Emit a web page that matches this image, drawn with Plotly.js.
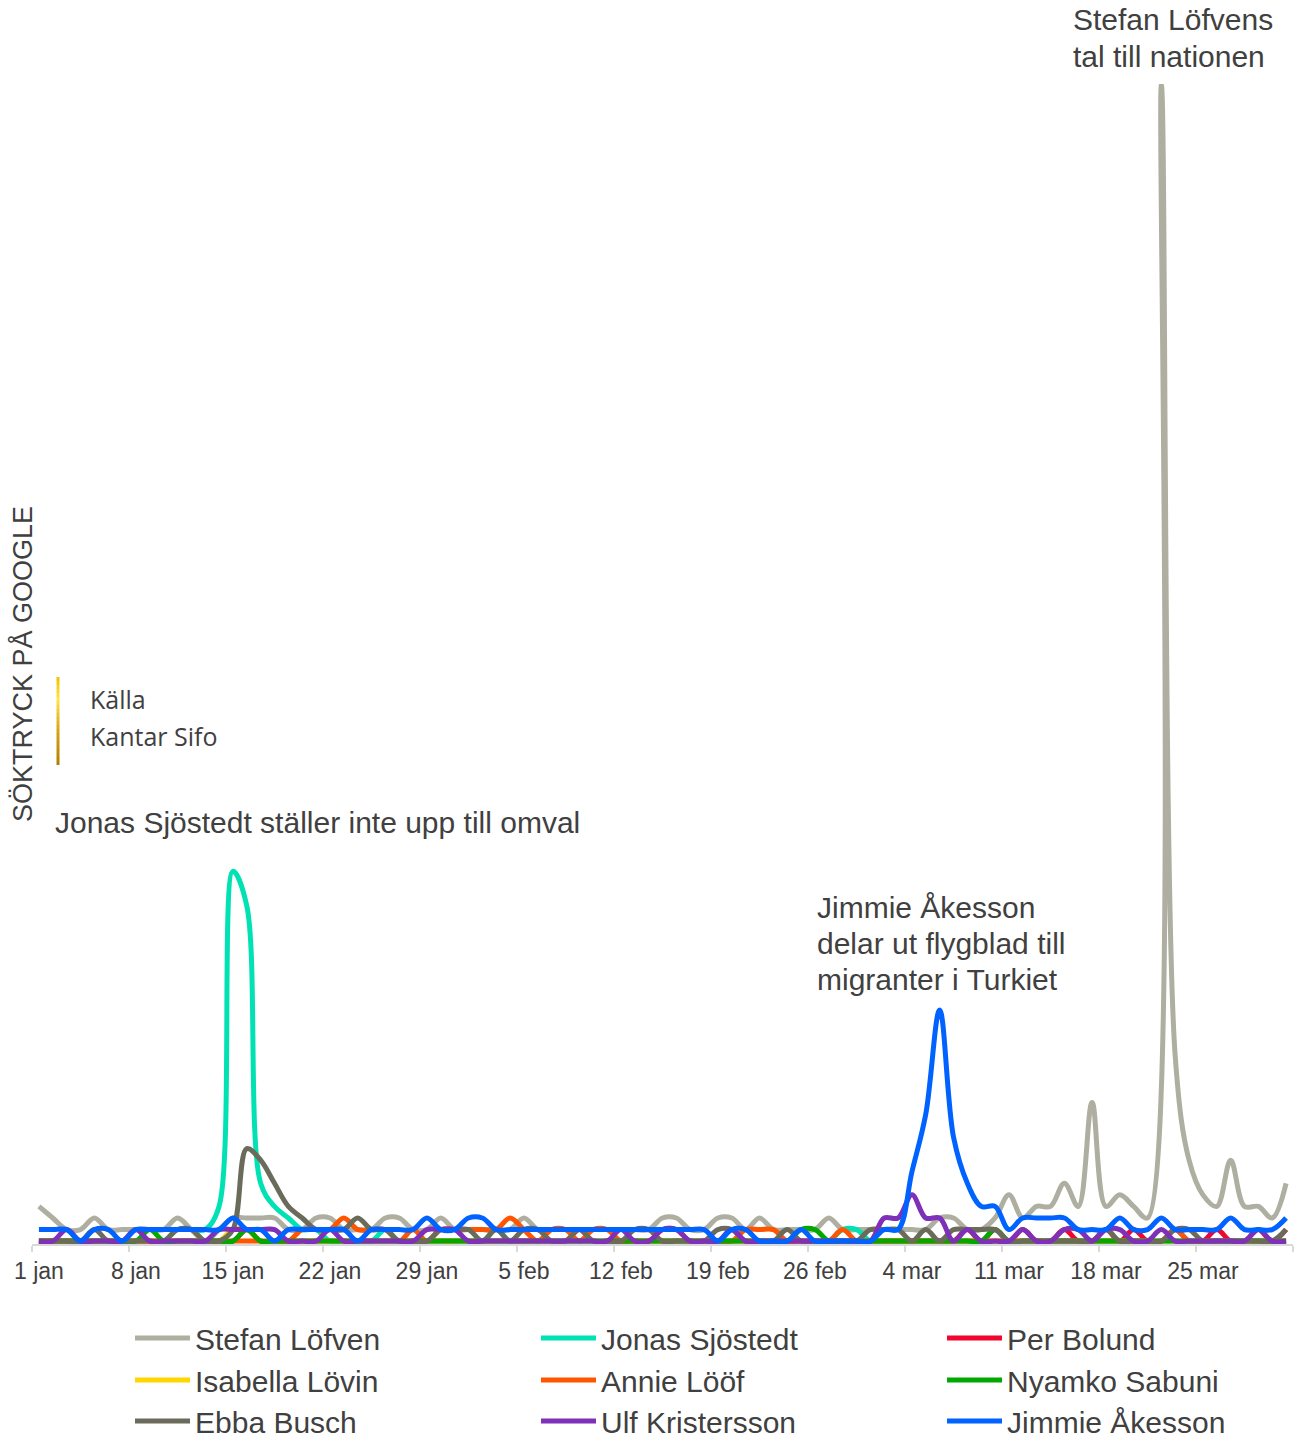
<!DOCTYPE html>
<html><head><meta charset="utf-8">
<script src="https://cdn.plot.ly/plotly-3.0.1.min.js"></script>
<style>html,body{margin:0;padding:0;background:#fff}#chart{width:1297px;height:1439px}</style>
</head><body><div id="chart"></div>
<script>
// ---- data (daily, 1 jan .. 31 mar 2020) ----
const tickLabels = ["1 jan","8 jan","15 jan","22 jan","29 jan","5 feb","12 feb","19 feb","26 feb","4 mar","11 mar","18 mar","25 mar"];
const tickDays   = [0,7,14,21,28,35,42,49,56,63,70,77,84];

const names = ["Stefan Löfven","Jonas Sjöstedt","Per Bolund","Isabella Lövin","Annie Lööf","Nyamko Sabuni","Ebba Busch","Ulf Kristersson","Jimmie Åkesson"];

const lofven = [3,2,1,1,2,1,1,1,1,1, 2,1,0,1,2,2,2,2,1,1, 2,2,1,1,1,2,2,1,1,2, 1,1,1,1,1,2,1,1,1,1,
  1,1,1,1,1,2,2,1,1,2, 2,1,2,1,1,1,1,2,1,1, 1,1,1,1,1,2,2,1,1,2, 4,2,3,3,5,3,12,3,4,3, 2,100,16,7,4,3,7,3,3,2, 5];
const sjostedt = [0,0,0,0,0,0,0,0,0,0, 1,1,1,3,32,29,5,3,2,1, 1,0,0,0,0,1,0,0,0,0, 0,0,0,1,0,0,0,0,0,0,
  0,0,0,0,0,0,0,0,0,0, 0,0,0,0,0,0,0,0,1,1, 0,0,0,0,0,0,0,0,0,0, 0,0,0,0,0,0,0,0,0,0, 0,0,0,0,0,0,0,0,0,0, 0];
const bolund = [0,0,0,0,0,0,0,0,0,0, 0,0,0,0,0,1,0,0,0,0, 0,0,0,0,0,0,0,0,0,0, 0,0,0,0,0,0,0,0,0,1,
  0,0,0,0,0,0,0,0,0,0, 0,0,0,0,0,0,0,0,0,0, 0,0,0,0,0,0,0,1,0,1, 0,1,0,0,1,0,0,1,0,1, 0,0,1,0,0,1,0,0,1,0, 1];
const lovin = [0,0,0,0,0,0,0,0,0,0, 0,0,0,0,1,1,0,0,0,0, 0,0,0,0,0,0,0,0,0,0, 0,0,0,0,0,0,0,0,0,0,
  0,0,0,0,0,0,0,0,0,0, 0,0,0,0,0,0,0,0,0,0, 0,0,0,0,0,0,0,0,0,0, 0,0,0,0,0,0,0,0,0,0, 0,0,0,0,0,0,0,0,0,0, 0];
const loof = [0,0,0,0,0,0,0,0,0,0, 0,0,0,0,0,0,0,0,0,1, 1,1,2,1,1,1,0,1,0,1, 1,1,1,1,2,1,0,1,1,0,
  1,1,0,0,0,1,1,0,0,0, 0,1,1,1,0,0,0,0,1,0, 0,0,0,0,0,0,0,0,0,0, 0,0,0,0,0,0,0,0,0,0, 0,0,1,0,0,0,0,0,0,0, 0];
const sabuni = [0,0,0,0,0,0,0,0,1,0, 0,0,0,0,0,1,0,0,0,0, 0,0,0,0,0,0,0,0,0,0, 0,0,0,0,0,0,0,0,0,0,
  0,0,0,0,0,0,0,0,0,0, 0,0,0,0,0,1,1,0,0,0, 0,0,0,0,0,0,0,0,0,1, 0,0,0,0,0,0,0,0,0,0, 0,0,0,0,0,0,0,0,0,0, 0];
const busch = [0,0,0,0,1,0,0,0,0,0, 1,1,0,0,1,8,7,5,3,2, 1,1,1,2,1,1,0,0,0,1, 1,1,0,1,0,1,1,0,0,1,
  0,0,0,1,1,0,0,0,0,1, 1,0,0,0,1,0,0,0,0,0, 1,1,1,0,1,0,1,1,1,1, 0,0,0,0,0,0,0,1,0,0, 0,0,1,1,0,0,0,0,0,0, 1];
const kristersson = [0,0,1,0,0,0,0,1,0,0, 0,0,0,1,1,1,1,1,0,0, 0,1,0,0,0,0,0,0,1,1, 1,0,0,0,0,0,0,0,0,0,
  0,0,1,0,0,1,1,0,0,0, 1,0,0,0,0,0,0,0,0,0, 0,2,2,4,2,2,0,1,0,0, 0,1,0,0,1,1,0,1,1,0, 0,1,0,0,0,0,0,0,1,0, 0];
const akesson = [1,1,1,0,1,1,0,1,1,1, 1,1,1,1,2,1,1,0,1,1, 1,1,1,0,1,1,1,1,2,1, 1,2,2,1,1,1,1,1,1,1,
  1,1,1,1,1,1,1,1,1,0, 1,1,0,0,0,1,0,0,0,0, 0,1,1,6,11,20,9,5,3,3, 1,2,2,2,2,1,1,1,2,1, 1,2,1,1,1,1,2,1,1,1, 2];

const series = [lofven, sjostedt, bolund, lovin, loof, sabuni, busch, kristersson, akesson];
const colors = ["#AEAFA0","#00E2B4","#F0062E","#FFD600","#FF5500","#00A800","#6B6B5C","#7E30B8","#0062FF"];

// ---- geometry ----
const W = 1297, H = 1439, ML = 32, MR = 4, MT = 84, MB = 195;
const PW = W - ML - MR, PH = H - MT - MB;
const px = v => (v - ML) / PW;
const py = v => (H - MB - v) / PH;

const FONT = 'Arial, "Liberation Sans", sans-serif';
const TXT = '#404040';

const days = lofven.map((_, i) => i);
const legendIds = ['legend','legend','legend','legend2','legend2','legend2','legend3','legend3','legend3'];

const traces = series.map((s, i) => ({
  x: days, y: s, name: names[i], type: 'scatter', mode: 'lines',
  line: {color: colors[i], width: 5, shape: 'spline', smoothing: 1},
  legend: legendIds[i], hoverinfo: 'skip'
}));

// gold gradient bar beside the source note
function lerp(a, b, t) { return Math.round(a + (b - a) * t); }
function hex(c) { return [parseInt(c.slice(1,3),16), parseInt(c.slice(3,5),16), parseInt(c.slice(5,7),16)]; }
const stops = [[0,'#F2C000'],[0.25,'#FFE44A'],[0.6,'#D9A514'],[1,'#B07D00']];
function gradColor(t) {
  for (let k = 0; k < stops.length - 1; k++) {
    const [t0,c0] = stops[k], [t1,c1] = stops[k+1];
    if (t >= t0 && t <= t1) {
      const u = (t - t0) / (t1 - t0), a = hex(c0), b = hex(c1);
      return `rgb(${lerp(a[0],b[0],u)},${lerp(a[1],b[1],u)},${lerp(a[2],b[2],u)})`;
    }
  }
  return stops[stops.length-1][1];
}
const shapes = [];
const barTop = 677, barBot = 765, nSeg = 22;
for (let k = 0; k < nSeg; k++) {
  const y0 = barTop + (barBot - barTop) * k / nSeg, y1 = barTop + (barBot - barTop) * (k + 1) / nSeg;
  shapes.push({type:'rect', xref:'paper', yref:'paper', x0:px(56.5), x1:px(59.5), y0:py(y1), y1:py(y0),
    fillcolor: gradColor((k + 0.5) / nSeg), line:{width:0}});
}

function note(text, xPix, yPix, size, family) {
  return {text: text, x: px(xPix), y: py(yPix), xref:'paper', yref:'paper', showarrow:false,
    xanchor:'left', yanchor:'middle', align:'left', font:{family: family || FONT, size: size, color: TXT}};
}
const SRC_FONT = '"Open Sans", "Noto Sans", sans-serif';
const annotations = [
  {text:'SÖKTRYCK PÅ GOOGLE', textangle:-90, x:px(22), y:py(664), xref:'paper', yref:'paper',
   showarrow:false, xanchor:'center', yanchor:'middle', font:{family:FONT, size:27, color:TXT}},
  note('Stefan Löfvens', 1071, 20, 30),
  note('tal till nationen', 1071, 56, 30),
  note('Jonas Sjöstedt ställer inte upp till omval', 53, 822, 30),
  note('Jimmie Åkesson', 815, 907, 30),
  note('delar ut flygblad till', 815, 943, 30),
  note('migranter i Turkiet', 815, 979, 30),
  note('Källa', 88, 699, 25, SRC_FONT),
  note('Kantar Sifo', 88, 736, 25, SRC_FONT)
];

function legendRow(yPix) {
  return {orientation:'h', xref:'container', yref:'container', x:130/W, y:1 - yPix/H,
    xanchor:'left', yanchor:'middle', itemwidth:55, entrywidth:336, entrywidthmode:'pixels',
    font:{family:FONT, size:30, color:TXT}, bgcolor:'rgba(0,0,0,0)', borderwidth:0, traceorder:'normal'};
}

const layout = {
  width: W, height: H,
  margin: {l:ML, r:MR, t:MT, b:MB, autoexpand:false},
  paper_bgcolor:'#ffffff', plot_bgcolor:'#ffffff',
  showlegend: true,
  xaxis: {
    range:[-0.5, 90.5], tickmode:'array', tickvals: tickDays, ticktext: tickLabels,
    ticks:'', showgrid:false, zeroline:false, showline:true, linecolor:'#D9D9D9', linewidth:1.5,
    tickfont:{family:FONT, size:23, color:TXT}, ticklabelstandoff: 6,
    minor:{tickmode:'linear', tick0:-0.5, dtick:7, ticks:'outside', ticklen:6, tickwidth:1.5, tickcolor:'#D9D9D9', showgrid:false},
    fixedrange:true
  },
  yaxis: {range:[-0.25, 100.1], showticklabels:false, showgrid:false, zeroline:false, showline:false, ticks:'', fixedrange:true},
  legend: legendRow(1338),
  legend2: legendRow(1380),
  legend3: legendRow(1421),
  shapes: shapes,
  annotations: annotations
};

Plotly.newPlot('chart', traces, layout, {staticPlot:true, displayModeBar:false});
</script>
</body></html>
